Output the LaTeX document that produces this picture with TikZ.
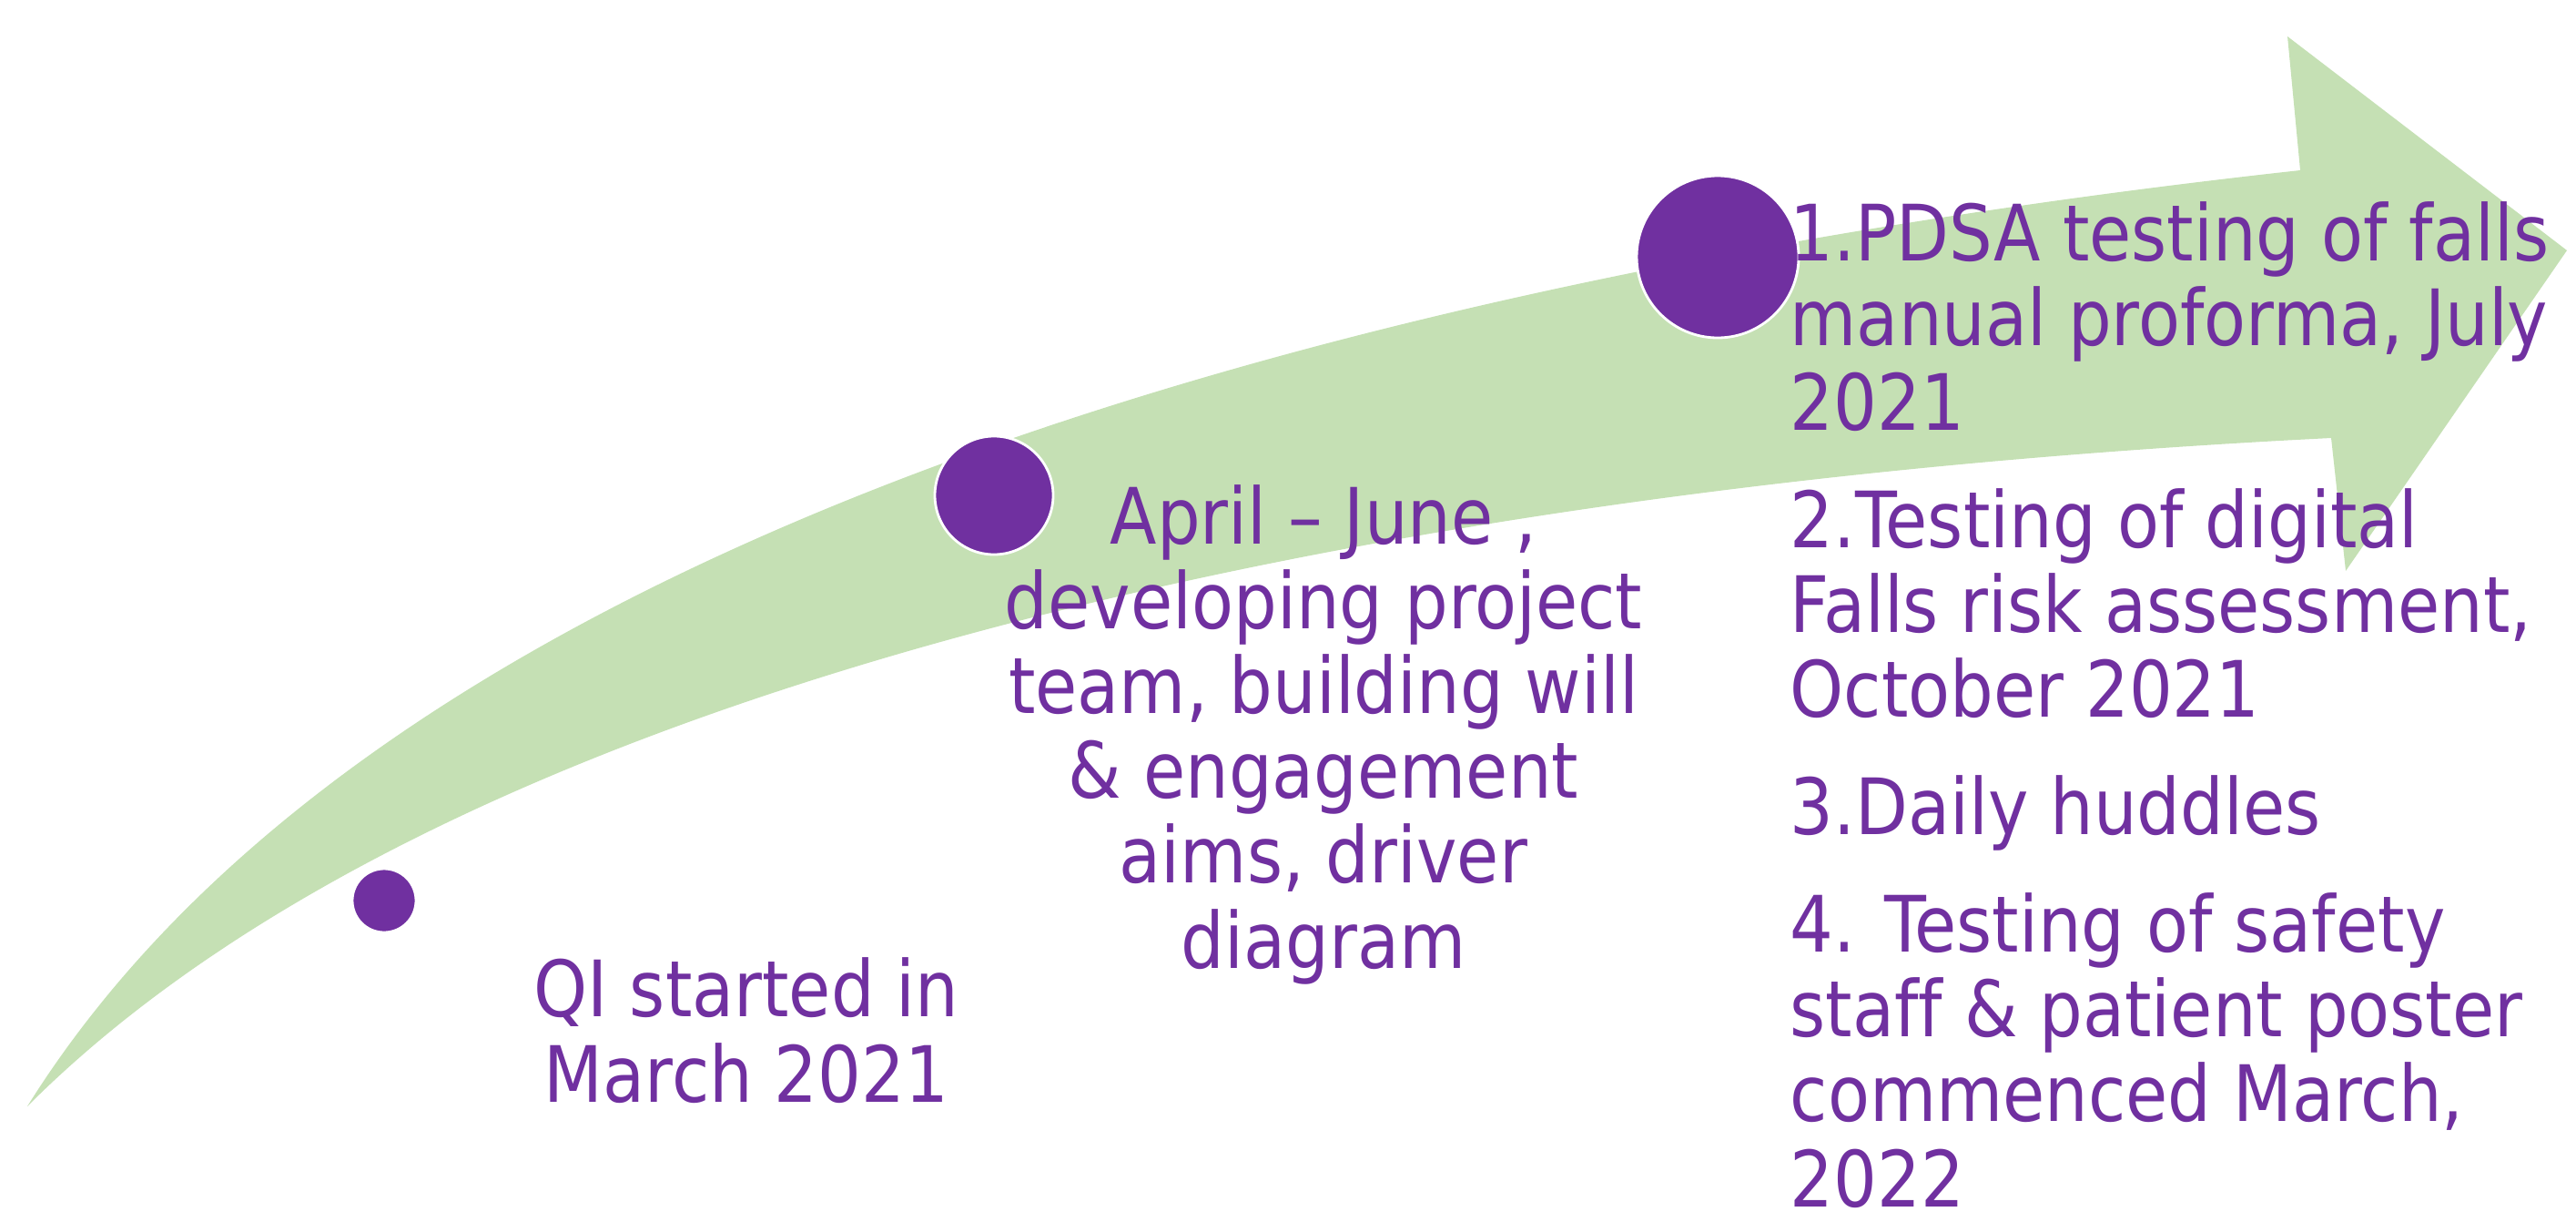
\documentclass[tikz,border=0pt]{standalone}
\usepackage{fontspec}
\setmainfont{DejaVu Sans}[FakeStretch=0.88,Ligatures=NoCommon]
\definecolor{arrowgreen}{HTML}{C5E0B4}
\definecolor{qipurple}{HTML}{7030A0}

\begin{document}
\begin{tikzpicture}[
    milestone/.style={circle,fill=qipurple,draw=white,line width=0.8pt,inner sep=0pt},
    steptext/.style={text=qipurple,inner sep=0pt,anchor=base,
        font=\fontsize{24.3}{26.5}\selectfont}
  ]
\useasboundingbox (0,0) rectangle (28.30,13.41);

% curved arrow
\fill[arrowgreen] (0.30,1.26) .. controls (4.30,7.66) and (15.27,10.44) .. (25.27,11.54)
  -- (25.13,13.01) -- (28.20,10.66) -- (25.77,7.14) -- (25.61,8.60)
  .. controls (14.61,8.05) and (4.80,5.76) .. (0.30,1.26) -- cycle;

% milestones
\node[milestone,minimum size=0.70cm] (m1) at (4.22,3.52) {};
\node[milestone,minimum size=1.30cm] (m2) at (10.92,7.97) {};
\node[milestone,minimum size=1.78cm] (m3) at (18.87,10.59) {};

% texts (anchored on the baseline of the last line)
\node[steptext,align=center] (t1) at (8.20,1.31) {QI started in\\March 2021};
\node[steptext,align=center] (t2) at (14.54,2.78) {April – June ,\\developing project\\team, building will\\\& engagement\\aims, driver\\diagram};
\node[steptext,align=left,anchor=base west] (t3) at (19.66,0.16) {1.PDSA testing of falls\\manual proforma, July\\2021\\[10.2pt]2.Testing of digital\\Falls risk assessment,\\October 2021\\[10.2pt]3.Daily huddles\\[10.2pt]4. Testing of safety\\staff \& patient poster\\commenced March,\\2022};

\end{tikzpicture}
\end{document}
